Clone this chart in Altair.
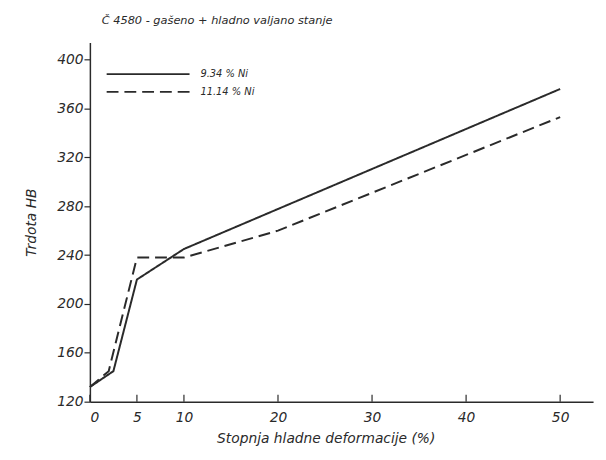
import altair as alt
import pandas as pd

# data
x_solid = [0, 2.5, 5, 10, 50]
y_solid = [132, 145, 220, 245, 376]
x_dash = [0, 2, 5, 10, 20, 50]
y_dash = [132, 145, 238, 238, 260, 353]
series = ["9.34 % Ni", "11.14 % Ni"]
x_ticks = [0, 5, 10, 20, 30, 40, 50]
y_ticks = [120, 160, 200, 240, 280, 320, 360, 400]
title_text = "Č 4580 - gašeno + hladno valjano stanje"
x_title = "Stopnja hladne deformacije (%)"
y_title = "Trdota HB"

rows = []
for x, y in zip(x_solid, y_solid):
    rows.append({"x": x, "y": y, "s": series[0]})
for x, y in zip(x_dash, y_dash):
    rows.append({"x": x, "y": y, "s": series[1]})
df = pd.DataFrame(rows)

W, H = 510, 364
INK = "#2a2a2a"
FONT = "DejaVu Sans"

xs = alt.Scale(domain=[0, 53.5], nice=False, zero=False)
ys = alt.Scale(domain=[120, 414], nice=False, zero=False)

lines = alt.Chart(df).mark_line(strokeWidth=2, color=INK).encode(
    x=alt.X("x:Q", scale=xs, title=x_title,
            axis=alt.Axis(values=x_ticks, ticks=False, labelPadding=9, grid=False,
                          titleX=239, titlePadding=7)),
    y=alt.Y("y:Q", scale=ys, title=y_title,
            axis=alt.Axis(values=y_ticks, tickSize=6, labelPadding=1, grid=False,
                          titlePadding=18)),
    strokeDash=alt.StrokeDash("s:N", scale=alt.Scale(domain=series, range=[[1, 0], [12, 6]]), legend=None),
    detail="s:N",
)

tick_df = pd.DataFrame({"x": x_ticks})
xticks = alt.Chart(tick_df).mark_rule(color=INK, strokeWidth=1.2).encode(
    x=alt.X("x:Q", scale=xs),
    y=alt.value(H),
    y2=alt.value(H - 7),
)

leg1 = alt.Chart(pd.DataFrame({"t": [series[0]]})).mark_rule(color=INK, strokeWidth=2).encode(
    x=alt.value(17), x2=alt.value(101), y=alt.value(32))
leg2 = alt.Chart(pd.DataFrame({"t": [series[1]]})).mark_rule(color=INK, strokeWidth=2, strokeDash=[12, 6]).encode(
    x=alt.value(17), x2=alt.value(101), y=alt.value(50))
lt1 = alt.Chart(pd.DataFrame({"t": [series[0]]})).mark_text(
    align="left", baseline="middle", fontStyle="italic", font=FONT, fontSize=10, color=INK).encode(
    text="t:N", x=alt.value(112), y=alt.value(32))
lt2 = alt.Chart(pd.DataFrame({"t": [series[1]]})).mark_text(
    align="left", baseline="middle", fontStyle="italic", font=FONT, fontSize=10, color=INK).encode(
    text="t:N", x=alt.value(112), y=alt.value(50))

chart = alt.layer(lines, xticks, leg1, leg2, lt1, lt2).properties(
    width=W, height=H,
    background="white",
    title=alt.TitleParams(title_text, anchor="start", frame="group", dx=12, offset=16,
                          fontSize=11.5, fontStyle="italic", font=FONT, fontWeight="normal", color=INK),
    autosize=alt.AutoSizeParams(type="none"),
    padding={"left": 83, "top": 32, "right": 5, "bottom": 50},
).configure_view(stroke=None).configure_axis(
    domainColor=INK, domainWidth=1.5, tickColor=INK, tickWidth=1.2,
    labelFont=FONT, labelFontStyle="italic", labelFontSize=14, labelColor=INK,
    titleFont=FONT, titleFontStyle="italic", titleFontSize=14, titleFontWeight="normal", titleColor=INK,
)

chart.save("out.html", embed_options={"renderer": "svg", "actions": False})
